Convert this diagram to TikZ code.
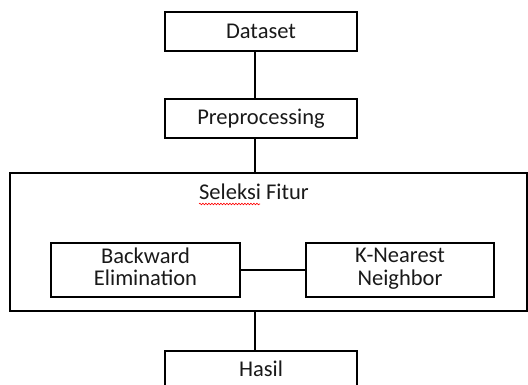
\documentclass[tikz,border=0pt]{standalone}
\usepackage{fontspec}
\setmainfont{Carlito}
\usetikzlibrary{decorations.pathmorphing}
\tikzset{
  blok/.style={draw, line width=1.2pt, text=black!90, align=center, inner sep=0pt},
  garis/.style={line width=1.2pt}
}
\begin{document}
\begin{tikzpicture}[x=1pt, y=-1pt, font=\fontsize{22.5}{22.5}\selectfont]
  \clip (0,0) rectangle (528,385);
  \useasboundingbox (0,0) rectangle (528,385);
  \node[blok, minimum width=192pt, minimum height=39pt] (data) at (261,31.5) {Dataset};
  \node[blok, minimum width=192pt, minimum height=39pt] (prep) at (261,118.5) {Preprocessing};
  \node[blok, minimum width=517pt, minimum height=138pt] (seleksi) at (268.5,242) {};
  \node[text=black!90] (judul) at (254,192) {Seleksi Fitur};
  \node[blok, minimum width=189pt, minimum height=54pt] (be) at (145.5,270) {Backward\\Elimination\strut};
  \node[blok, minimum width=188pt, minimum height=54pt] (knn) at (400,270) {K-Nearest\\Neighbor\strut};
  \node[blok, minimum width=192pt, minimum height=36pt] (hasil) at (261,369) {Hasil};
  \draw[garis] ([xshift=-6pt]data.south) -- ([xshift=-6pt]prep.north);
  \draw[garis] ([xshift=-6pt]prep.south) -- ([xshift=-6pt]prep.south |- seleksi.north);
  \draw[garis] ([xshift=-6pt]hasil.north |- seleksi.south) -- ([xshift=-6pt]hasil.north);
  \draw[garis] (be) -- (knn);
  % garis merah ejaan
  \draw[red, line width=0.6pt, decorate, decoration={snake, amplitude=0.8pt, segment length=3pt}]
    (199,204) -- (260,204);
\end{tikzpicture}
\end{document}
